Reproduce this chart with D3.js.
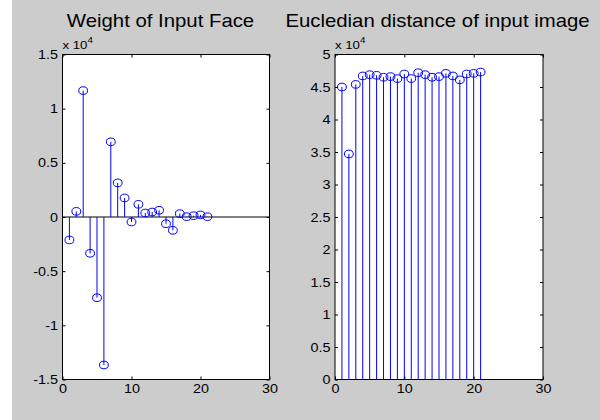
<!DOCTYPE html>
<html>
<head>
<meta charset="utf-8">
<script src="https://cdn.jsdelivr.net/npm/d3@7"></script>
<style>
body { margin: 0; background: #fff; }
text { font-family: "Liberation Sans", Arial, sans-serif; fill: #000; }
</style>
</head>
<body>
<div id="chart-area"></div>
<script>
/* stem data */
var idx = [1, 2, 3, 4, 5, 6, 7, 8, 9, 10, 11, 12, 13, 14, 15, 16, 17, 18, 19, 20, 21];
var weights = [-2120, 520, 11670, -3350, -7450, -13660, 6940, 3150, 1760, -460, 1170,
               370, 460, 620, -620, -1230, 310, 30, 120, 190, 30];
var distances = [45000, 34700, 45400, 46700, 46900, 46800, 46500, 46600, 46300, 47000, 46300,
                 47200, 46900, 46500, 46600, 47100, 46700, 46100, 47000, 47100, 47300];
var xTicks = [0, 10, 20, 30];
var weightTicks = [-15000, -10000, -5000, 0, 5000, 10000, 15000];
var distTicks = [0, 5000, 10000, 15000, 20000, 25000, 30000, 35000, 40000, 45000, 50000];
var titles = ["Weight of Input Face", "Eucledian distance of input image"];

var W = 600, H = 420;
var stretch = "scale(1.15,1)"; // the picture is a bit wider than tall

var svg = d3.select("#chart-area")
	.append("svg")
	.attr("width", W)
	.attr("height", H);

// figure background
svg.append("rect").attr("x", 12).attr("y", 0).attr("width", W - 12).attr("height", H).attr("fill", "#cccccc");

function drawPanel(p) {
	var x = d3.scaleLinear().domain([0, 30]).range([p.left, p.right]);
	var y = d3.scaleLinear().domain(p.domain).range([p.bottom, p.top]);

	svg.append("rect")
		.attr("x", p.left).attr("y", p.top)
		.attr("width", p.right - p.left).attr("height", p.bottom - p.top)
		.attr("fill", "#fff");

	// baseline of the stems
	svg.append("line")
		.attr("x1", x(0)).attr("x2", x(30))
		.attr("y1", y(0)).attr("y2", y(0))
		.attr("stroke", "#000").attr("stroke-width", 1);

	var g = svg.append("g");
	g.selectAll("line.stem")
		.data(p.values)
		.enter()
		.append("line")
			.attr("class", "stem")
			.attr("x1", function(d, i){ return x(idx[i]); })
			.attr("x2", function(d, i){ return x(idx[i]); })
			.attr("y1", y(0))
			.attr("y2", function(d){ return y(d); })
			.attr("stroke", "#0000ff")
			.attr("stroke-width", 1);
	g.selectAll("ellipse")
		.data(p.values)
		.enter()
		.append("ellipse")
			.attr("cx", function(d, i){ return x(idx[i]); })
			.attr("cy", function(d){ return y(d); })
			.attr("rx", 4.4)
			.attr("ry", 3.8)
			.attr("fill", "none")
			.attr("stroke", "#0000ff")
			.attr("stroke-width", 1);

	/* Axes: MATLAB style, ticks pointing inwards on all four sides */
	var fmt = function(d){ return String(d / 10000); };
	var left = svg.append("g")
		.attr("transform", "translate(" + p.left + ",0)")
		.call(d3.axisLeft(y).tickValues(p.ticks).tickSizeInner(-3).tickSizeOuter(0).tickPadding(4).tickFormat(fmt));
	var bottom = svg.append("g")
		.attr("transform", "translate(0," + p.bottom + ")")
		.call(d3.axisBottom(x).tickValues(xTicks).tickSizeInner(-3).tickSizeOuter(0).tickPadding(5));
	var right = svg.append("g")
		.attr("transform", "translate(" + p.right + ",0)")
		.call(d3.axisRight(y).tickValues(p.ticks).tickSizeInner(-3).tickSizeOuter(0).tickFormat(""));
	var top = svg.append("g")
		.attr("transform", "translate(0," + p.top + ")")
		.call(d3.axisTop(x).tickValues(xTicks).tickSizeInner(-3).tickSizeOuter(0).tickFormat(""));

	[left, bottom, right, top].forEach(function(a){
		a.select(".domain").remove();
		a.selectAll("line").attr("stroke", "#000");
		a.selectAll("text")
			.attr("font-family", null)
			.attr("font-size", "12.5px")
			.attr("transform", stretch);
	});

	// box
	svg.append("rect")
		.attr("x", p.left).attr("y", p.top)
		.attr("width", p.right - p.left).attr("height", p.bottom - p.top)
		.attr("fill", "none").attr("stroke", "#000").attr("stroke-width", 1);

	// exponent label
	var ex = svg.append("text")
		.attr("transform", "translate(" + p.left + "," + (p.top - 6) + ") " + stretch)
		.attr("font-size", "11.5px");
	ex.append("tspan").text("x 10");
	ex.append("tspan").attr("dy", -6).attr("font-size", "8.5px").text("4");

	// title
	svg.append("text")
		.attr("transform", "translate(" + p.titleX + ",27) " + stretch)
		.attr("text-anchor", "middle")
		.attr("font-size", "17.7px")
		.text(p.title);
}

drawPanel({ left: 62.5, right: 269.5, top: 54.5, bottom: 379.5, titleX: 160.5,
	domain: [-15000, 15000], ticks: weightTicks, values: weights, title: titles[0] });
drawPanel({ left: 335, right: 543, top: 54.5, bottom: 379.5, titleX: 437.5,
	domain: [0, 50000], ticks: distTicks, values: distances, title: titles[1] });
</script>
</body>
</html>
